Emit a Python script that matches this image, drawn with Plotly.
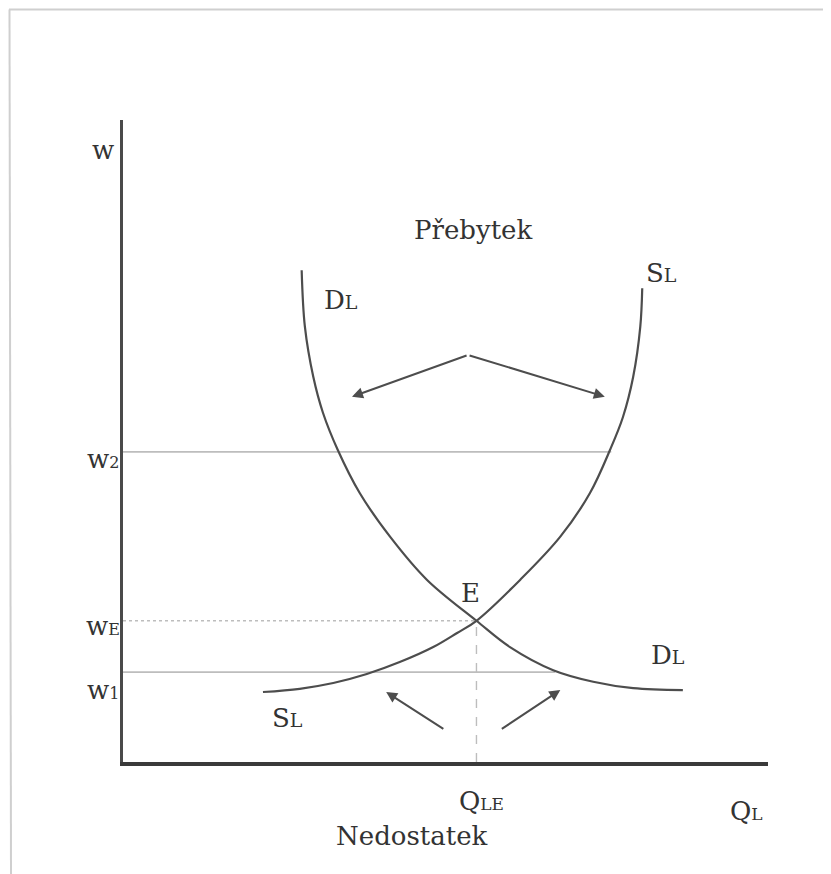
import plotly.graph_objects as go

# labour demand curve D_L (Q_L, w)
dl_q = [2.77, 2.82, 2.95, 3.10, 3.33, 3.67, 4.14, 4.71, 5.48, 6.00, 6.67, 7.29, 7.91, 8.68]
dl_w = [7.66, 6.78, 6.00, 5.44, 4.86, 4.19, 3.51, 2.84, 2.20, 1.79, 1.43, 1.25, 1.15, 1.12]

# labour supply curve S_L
sl_q = [2.17, 2.74, 3.26, 3.78, 4.30, 4.81, 5.18, 5.48, 6.16, 6.78, 7.24, 7.55, 7.75, 7.91, 8.02, 8.05]
sl_w = [1.09, 1.14, 1.23, 1.37, 1.56, 1.79, 2.01, 2.20, 2.84, 3.51, 4.19, 4.86, 5.37, 6.00, 6.78, 7.38]

# equilibrium and wage levels
q_e, w_e = 5.48, 2.20
w_levels = [4.83, 2.20, 1.40]          # w2, wE, w1
w_line_ends = [7.57, 5.48, 6.70]        # where each wage line meets a curve
w_dash = ["solid", "dot", "solid"]


def sub(main, small, size=17):
    # subscript kept on the baseline, as in the scanned figure
    return f"{main}<span style='font-size:{size}px'>{small}</span>"


w_names = [sub("w", "2", 16), sub("w", "E", 16), sub("w", "1", 16)]
w_label_pos = [4.72, 2.12, 1.12]

# arrows: (tail q, tail w, head q, head w)
arrows = [
    (5.35, 6.34, 3.55, 5.69),
    (5.35, 6.34, 7.47, 5.69),
    (4.99, 0.50, 4.08, 1.09),
    (5.85, 0.50, 6.78, 1.12),
]

# labels inside the plotting area: (q, w, text)
labels = [
    (5.43, 8.29, "Přebytek"),
    (3.38, 7.20, sub("D", "L", 19)),
    (8.35, 7.62, sub("S", "L", 19)),
    (5.38, 2.63, "E"),
    (8.45, 1.66, sub("D", "L", 19)),
    (2.55, 0.69, sub("S", "L", 19)),
]
# labels below/left of the axes: (q, w, text)
outer_labels = [
    (-0.31, 9.53, "w"),
    (5.56, -0.60, sub("Q", "LE")),
    (9.66, -0.76, sub("Q", "L")),
    (4.48, -1.15, "Nedostatek"),
]

CURVE = "#4d4d4d"
GUIDE = "#bdbdbd"
TEXT = "#333333"
FONT = "DejaVu Serif"
FS = 26

fig = go.Figure()

# guide lines first so the curves sit on top
for w, end, dash in zip(w_levels, w_line_ends, w_dash):
    fig.add_trace(go.Scatter(x=[0, end], y=[w, w], mode="lines",
                             line=dict(color=GUIDE, width=1.6, dash=dash),
                             hoverinfo="skip", showlegend=False))
fig.add_trace(go.Scatter(x=[q_e, q_e], y=[0, w_e], mode="lines",
                         line=dict(color=GUIDE, width=1.4, dash="dash"),
                         hoverinfo="skip", showlegend=False))

fig.add_trace(go.Scatter(x=dl_q, y=dl_w, mode="lines", line_shape="spline",
                         line=dict(color=CURVE, width=2.2), showlegend=False))
fig.add_trace(go.Scatter(x=sl_q, y=sl_w, mode="lines", line_shape="spline",
                         line=dict(color=CURVE, width=2.2), showlegend=False))

for tq, tw, hq, hw in arrows:
    fig.add_annotation(x=hq, y=hw, ax=tq, ay=tw, xref="x", yref="y",
                       axref="x", ayref="y", text="", showarrow=True,
                       arrowhead=2, arrowsize=1.1, arrowwidth=2,
                       arrowcolor=CURVE)

for q, w, t in labels:
    fig.add_annotation(x=q, y=w, text=t, showarrow=False,
                       xanchor="center", yanchor="middle",
                       font=dict(family=FONT, size=FS, color=TEXT))

# axes run 0..10, so paper = value / 10 (annotations outside range need paper)
for q, w, t in outer_labels:
    fig.add_annotation(x=q / 10, y=w / 10, xref="paper", yref="paper",
                       text=t, showarrow=False,
                       xanchor="center", yanchor="middle",
                       font=dict(family=FONT, size=FS, color=TEXT))
for w, name in zip(w_label_pos, w_names):
    fig.add_annotation(x=-0.031, y=w / 10, xref="paper", yref="paper",
                       text=name, showarrow=False,
                       xanchor="center", yanchor="middle",
                       font=dict(family=FONT, size=FS, color=TEXT))

# light frame of the scanned page (top and left edges)
fig.add_shape(type="line", xref="paper", yref="paper",
              x0=-114 / 645, x1=708 / 645, y0=752.5 / 642, y1=752.5 / 642,
              line=dict(color="#cfcfcf", width=2))
fig.add_shape(type="line", xref="paper", yref="paper",
              x0=-113.5 / 645, x1=-112 / 645, y0=752.5 / 642, y1=-112 / 642,
              line=dict(color="#cfcfcf", width=2))

fig.update_xaxes(range=[0, 10], showgrid=False, zeroline=False,
                 showticklabels=False, ticks="", showline=True,
                 linecolor="#3a3a3a", linewidth=3.5)
fig.update_yaxes(range=[0, 10], showgrid=False, zeroline=False,
                 showticklabels=False, ticks="", showline=True,
                 linecolor="#4a4a4a", linewidth=2.5)

fig.update_layout(width=823, height=866,
                  margin=dict(l=115, r=63, t=112, b=112),
                  plot_bgcolor="white", paper_bgcolor="white",
                  showlegend=False)

fig.write_html("out.html")
